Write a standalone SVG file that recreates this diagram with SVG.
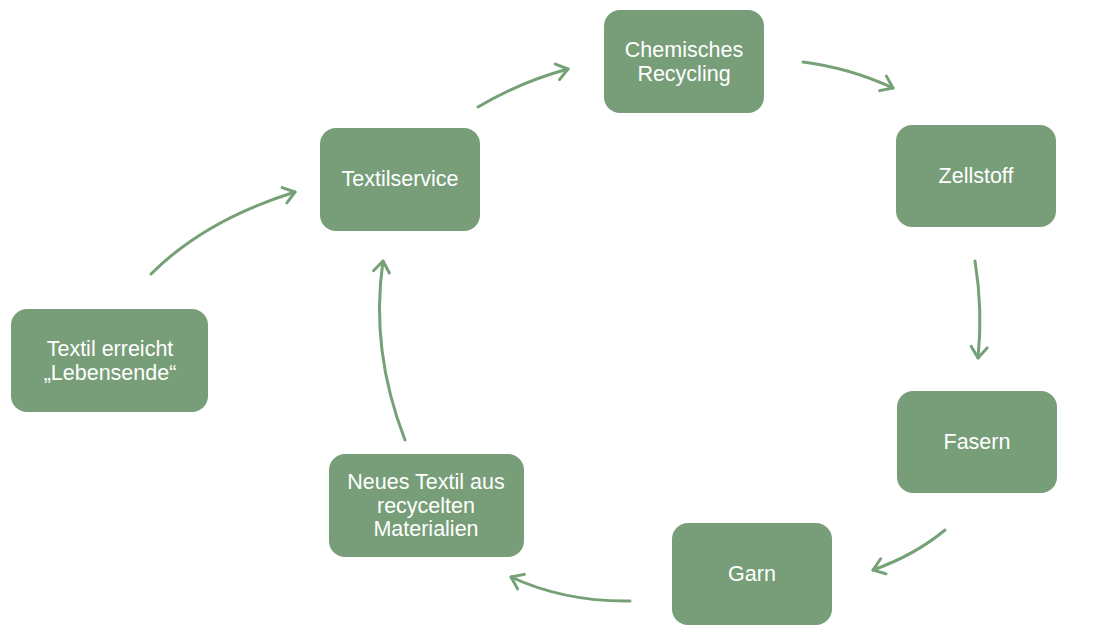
<svg xmlns="http://www.w3.org/2000/svg" width="1107" height="637" viewBox="0 0 1107 637">
<style>
.box{fill:#779e78;}
.t{font-family:"Liberation Sans",Arial,sans-serif;font-size:21.5px;fill:#ffffff;text-anchor:middle;}
.c{fill:none;stroke:#76a176;stroke-width:3;stroke-linecap:round;}
</style>
<defs>
<marker id="ah" markerUnits="userSpaceOnUse" markerWidth="30" markerHeight="30" refX="15" refY="15" orient="auto" viewBox="0 0 30 30">
<polyline points="4,7 15,15 4,23" fill="none" stroke="#76a176" stroke-width="3" stroke-linecap="round" stroke-linejoin="round"/>
</marker>
</defs>
<rect width="1107" height="637" fill="#ffffff"/>
<g id="connectors">
<path class="c" d="M151,274 Q205,220 295,192" marker-end="url(#ah)"/>
<path class="c" d="M478,107 Q520,82 568,69" marker-end="url(#ah)"/>
<path class="c" d="M803,62 Q850,68 893,88" marker-end="url(#ah)"/>
<path class="c" d="M975,261 Q983,310 978,358" marker-end="url(#ah)"/>
<path class="c" d="M945,530 Q915,555 873,570" marker-end="url(#ah)"/>
<path class="c" d="M630,601 Q565,602 511,577" marker-end="url(#ah)"/>
<path class="c" d="M405,440 Q370,350 383,261" marker-end="url(#ah)"/>
</g>
<g id="chem"><rect class="box" x="604" y="10" width="160" height="103" rx="16"/><text class="t" x="684" y="57">Chemisches</text><text class="t" x="684" y="81">Recycling</text></g>
<g id="zellstoff"><rect class="box" x="896" y="125" width="160" height="102" rx="16"/><text class="t" x="976" y="183">Zellstoff</text></g>
<g id="fasern"><rect class="box" x="897" y="391" width="160" height="102" rx="16"/><text class="t" x="977" y="449">Fasern</text></g>
<g id="garn"><rect class="box" x="672" y="523" width="160" height="102" rx="16"/><text class="t" x="752" y="581">Garn</text></g>
<g id="neues"><rect class="box" x="329" y="454" width="195" height="103" rx="16"/><text class="t" x="426" y="489">Neues Textil aus</text><text class="t" x="426" y="513">recycelten</text><text class="t" x="426" y="536">Materialien</text></g>
<g id="lebensende"><rect class="box" x="11" y="309" width="197" height="103" rx="16"/><text class="t" x="110" y="356">Textil erreicht</text><text class="t" x="110" y="380">„Lebensende“</text></g>
<g id="textilservice"><rect class="box" x="320" y="128" width="160" height="103" rx="16"/><text class="t" x="400" y="186">Textilservice</text></g>
</svg>
